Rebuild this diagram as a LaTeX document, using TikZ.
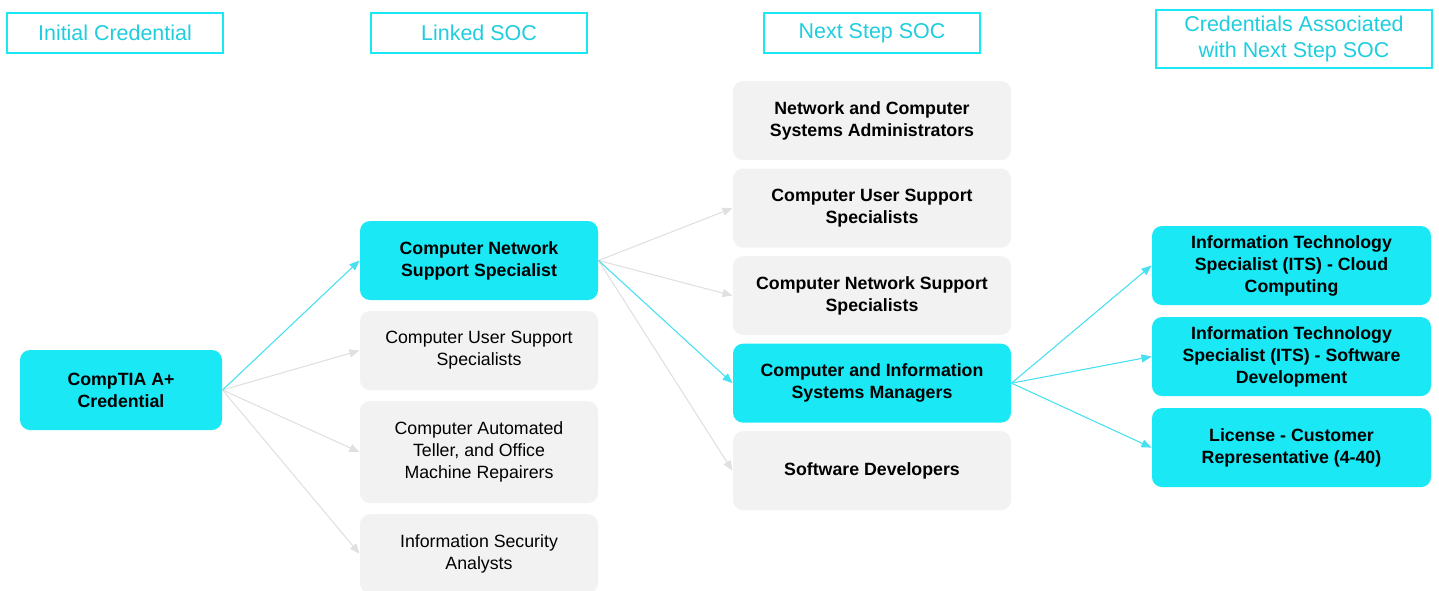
\documentclass[tikz,border=0pt]{standalone}
\usepackage{fontspec}
\setmainfont{Liberation Sans}
\usepackage{tikz}
\usetikzlibrary{positioning}
\usetikzlibrary{arrows.meta}

\definecolor{socCyan}{RGB}{26,232,245}
\definecolor{socText}{RGB}{30,205,222}
\definecolor{socGray}{RGB}{242,242,242}
\definecolor{socLine}{RGB}{224,224,224}
\definecolor{socArrow}{RGB}{70,225,240}

\begin{document}
\begin{tikzpicture}[
            > = {Triangle[length=2mm,width=1.6mm]}, % arrow head style
            node distance = 0.2cm, % distance between boxes
            line width = 0.6pt
        ]

        \tikzstyle{header}=[
            draw = socCyan,
            line width = 1.1pt,
            text = socText,
            align = center,
            minimum width = 4.32cm,
            minimum height = 0.8cm,
            font = \fontsize{12.2}{14.6}\selectfont
        ]
        \tikzstyle{box}=[
            rounded corners = 0.2cm,
            align = center,
            minimum height = 1.58cm,
            font = \fontsize{10.1}{12.5}\selectfont
        ]
        \tikzstyle{hot}=[box, fill = socCyan, font = \fontsize{10.1}{12.5}\selectfont\bfseries]
        \tikzstyle{cold}=[box, fill = socGray]
        \tikzstyle{coldb}=[cold, font = \fontsize{10.1}{12.5}\selectfont\bfseries]
        \tikzstyle{linkon}=[->, draw = socArrow, fill = socArrow]
        \tikzstyle{linkoff}=[->, draw = socLine, fill = socLine]

        \useasboundingbox (0,0) rectangle (28.78,-11.8);

	% COLUMN HEADERS
        \node[header] (H1) at (2.30,-0.66) {Initial Credential};
        \node[header] (H2) at (9.58,-0.66) {Linked SOC};
        \node[header] (H3) at (17.44,-0.66) {Next Step SOC};
        \node[header, minimum width = 5.52cm, minimum height = 1.16cm] (H4) at (25.88,-0.78) {Credentials Associated\\with Next Step SOC};

	% INITIAL CREDENTIAL
        \node[hot, minimum width = 4.04cm, minimum height = 1.6cm] (CT) at (2.42,-7.8) {CompTIA A+\\Credential};

	% LINKED SOC
        \tikzstyle{every node}=[minimum width = 4.76cm]
        \node[hot] (L1) at (9.58,-5.21) {Computer Network\\Support Specialist};
        \node[cold] (L2) [below = of L1] {Computer User Support\\Specialists};
        \node[cold, minimum height = 2.04cm] (L3) [below = of L2] {Computer Automated\\Teller, and Office\\Machine Repairers};
        \node[cold] (L4) [below = of L3] {Information Security\\Analysts};

	% NEXT STEP SOC
        \tikzstyle{every node}=[minimum width = 5.56cm]
        \node[coldb] (N1) at (17.44,-2.41) {Network and Computer\\Systems Administrators};
        \node[coldb] (N2) [below = 0.15cm of N1] {Computer User Support\\Specialists};
        \node[coldb] (N3) [below = 0.15cm of N2] {Computer Network Support\\Specialists};
        \node[hot] (N4) [below = 0.15cm of N3] {Computer and Information\\Systems Managers};
        \node[coldb] (N5) [below = 0.15cm of N4] {Software Developers};

	% CREDENTIALS FOR NEXT STEP SOC
        \tikzstyle{every node}=[minimum width = 5.58cm]
        \node[hot] (C1) at (25.83,-5.31) {Information Technology\\Specialist (ITS) - Cloud\\Computing};
        \node[hot] (C2) [below = 0.22cm of C1] {Information Technology\\Specialist (ITS) - Software\\Development};
        \node[hot] (C3) [below = 0.22cm of C2] {License - Customer\\Representative (4-40)};

        \draw[linkoff] (CT.east) -- (L2.west);
        \draw[linkoff] (CT.east) -- (L3.west);
        \draw[linkoff] (CT.east) -- (L4.west);
        \draw[linkon] (CT.east) -- (L1.west);

        \draw[linkoff] (L1.east) -- (N2.west);
        \draw[linkoff] (L1.east) -- (N3.west);
        \draw[linkoff] (L1.east) -- (N5.west);
        \draw[linkon] (L1.east) -- (N4.west);

        \draw[linkon] (N4.east) -- (C1.west);
        \draw[linkon] (N4.east) -- (C2.west);
        \draw[linkon] (N4.east) -- (C3.west);

  \end{tikzpicture}
\end{document}
